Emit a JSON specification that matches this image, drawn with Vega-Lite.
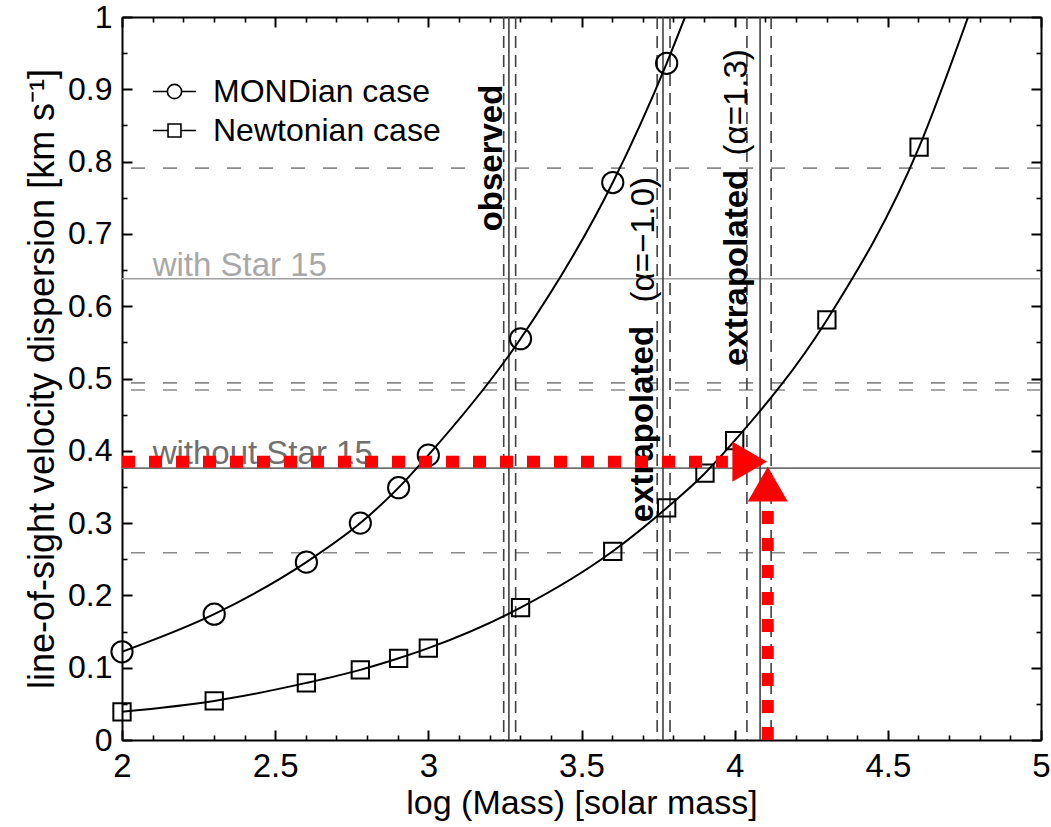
{
  "$schema": "https://vega.github.io/schema/vega-lite/v6.json",
  "width": 919,
  "height": 723,
  "autosize": {"type": "none"},
  "padding": {"left": 122, "top": 17, "right": 10, "bottom": 87},
  "background": "white",
  "config": {"view": {"stroke": null}, "font": "Liberation Sans", "axis": {"grid": false}},
  "datasets": {
    "curves": [
      {"case": "MONDian case", "kind": "model", "x": 2.0, "y": 0.122},
      {"case": "MONDian case", "kind": "model", "x": 2.301, "y": 0.174},
      {"case": "MONDian case", "kind": "model", "x": 2.602, "y": 0.246},
      {"case": "MONDian case", "kind": "model", "x": 2.778, "y": 0.300},
      {"case": "MONDian case", "kind": "model", "x": 2.903, "y": 0.349},
      {"case": "MONDian case", "kind": "model", "x": 3.0, "y": 0.394},
      {"case": "MONDian case", "kind": "model", "x": 3.301, "y": 0.555},
      {"case": "MONDian case", "kind": "model", "x": 3.602, "y": 0.771},
      {"case": "MONDian case", "kind": "model", "x": 3.778, "y": 0.936},
      {"case": "MONDian case", "kind": "curve end", "x": 3.838, "y": 1.0},
      {"case": "Newtonian case", "kind": "model", "x": 2.0, "y": 0.039},
      {"case": "Newtonian case", "kind": "model", "x": 2.301, "y": 0.054},
      {"case": "Newtonian case", "kind": "model", "x": 2.602, "y": 0.079},
      {"case": "Newtonian case", "kind": "model", "x": 2.778, "y": 0.097},
      {"case": "Newtonian case", "kind": "model", "x": 2.903, "y": 0.113},
      {"case": "Newtonian case", "kind": "model", "x": 3.0, "y": 0.127},
      {"case": "Newtonian case", "kind": "model", "x": 3.301, "y": 0.183},
      {"case": "Newtonian case", "kind": "model", "x": 3.602, "y": 0.261},
      {"case": "Newtonian case", "kind": "model", "x": 3.778, "y": 0.321},
      {"case": "Newtonian case", "kind": "model", "x": 3.903, "y": 0.369},
      {"case": "Newtonian case", "kind": "model", "x": 4.0, "y": 0.414},
      {"case": "Newtonian case", "kind": "model", "x": 4.301, "y": 0.581},
      {"case": "Newtonian case", "kind": "model", "x": 4.602, "y": 0.820},
      {"case": "Newtonian case", "kind": "curve end", "x": 4.762, "y": 1.0}
    ],
    "hWith": [{"y": 0.638}],
    "hWithout": [{"y": 0.376}],
    "hDashed": [{"y": 0.791}, {"y": 0.494}, {"y": 0.484}, {"y": 0.259}],
    "vSolid": [{"x": 3.263}, {"x": 3.766}, {"x": 4.083}],
    "vDashed": [{"x": 3.246}, {"x": 3.285}, {"x": 3.747}, {"x": 3.789}, {"x": 4.040}, {"x": 4.119}],
    "labWith": [{"text": "with Star 15", "x": 2.1, "y": 0.638}],
    "labWithout": [{"text": "without Star 15", "x": 2.1, "y": 0.376}],
    "rotBold": [
      {"text": "observed", "x": 3.208, "y": 0.805},
      {"text": "extrapolated", "x": 3.701, "y": 0.437},
      {"text": "extrapolated", "x": 4.008, "y": 0.653}
    ],
    "rotNormal": [
      {"text": "(α=−1.0)", "x": 3.703, "y": 0.692},
      {"text": "(α=1.3)", "x": 4.008, "y": 0.882}
    ],
    "redH": [{"x": 2.0, "x2": 3.978, "y": 0.385}],
    "redV": [{"x": 4.108, "y": 0.0, "y2": 0.328}],
    "headRight": [{"x": 4.049, "y": 0.385}],
    "headUp": [{"x": 4.108, "y": 0.354}]
  },
  "resolve": {"axis": {"x": "independent", "y": "independent"}},
  "layer": [
    {
      "data": {"name": "hWith"},
      "mark": {"type": "rule", "color": "#a0a0a0", "strokeWidth": 1.6},
      "encoding": {
        "y": {"field": "y", "type": "quantitative", "scale": {"domain": [0, 1], "nice": false, "zero": false},
          "axis": {"orient": "left", "values": [0, 0.1, 0.2, 0.3, 0.4, 0.5, 0.6, 0.7, 0.8, 0.9, 1], "format": "~g",
            "tickSize": -10, "tickWidth": 2, "tickColor": "black", "domain": true, "domainColor": "black", "domainWidth": 2,
            "labelFontSize": 32, "labelColor": "black", "labelPadding": 20, "labelFont": "Liberation Sans", "labelOverlap": false,
            "title": "line-of-sight velocity dispersion [km s⁻¹]", "titleFontSize": 36, "titleFontWeight": "normal",
            "titleColor": "black", "titleFont": "Liberation Sans", "titlePadding": 6, "grid": false}}
      }
    },
    {
      "data": {"name": "hWithout"},
      "mark": {"type": "rule", "color": "#707070", "strokeWidth": 1.6},
      "encoding": {
        "y": {"field": "y", "type": "quantitative", "scale": {"domain": [0, 1], "nice": false, "zero": false},
          "axis": {"orient": "left", "values": [0.05, 0.15, 0.25, 0.35, 0.45, 0.55, 0.65, 0.75, 0.85, 0.95],
            "tickSize": -5, "tickWidth": 1.6, "tickColor": "black", "domain": false, "labels": false, "title": null, "grid": false}}
      }
    },
    {
      "data": {"name": "hDashed"},
      "mark": {"type": "rule", "color": "#8a8a8a", "strokeWidth": 1.6, "strokeDash": [14, 18]},
      "encoding": {
        "y": {"field": "y", "type": "quantitative", "scale": {"domain": [0, 1], "nice": false, "zero": false}, "axis": null}
      }
    },
    {
      "data": {"name": "vSolid"},
      "mark": {"type": "rule", "color": "#404040", "strokeWidth": 1.6},
      "encoding": {
        "x": {"field": "x", "type": "quantitative", "scale": {"domain": [2, 5], "nice": false, "zero": false},
          "axis": {"orient": "bottom", "values": [2, 2.5, 3, 3.5, 4, 4.5, 5], "format": "~g",
            "tickSize": -10, "tickWidth": 2, "tickColor": "black", "domain": true, "domainColor": "black", "domainWidth": 2,
            "labelFontSize": 33, "labelColor": "black", "labelPadding": 20, "labelFlush": false, "labelOverlap": false,
            "labelFont": "Liberation Sans",
            "title": "log (Mass) [solar mass]", "titleFontSize": 34, "titleFontWeight": "normal", "titleColor": "black",
            "titleFont": "Liberation Sans", "titlePadding": 3, "grid": false}}
      }
    },
    {
      "data": {"name": "vDashed"},
      "mark": {"type": "rule", "color": "#404040", "strokeWidth": 1.6, "strokeDash": [12, 7]},
      "encoding": {
        "x": {"field": "x", "type": "quantitative", "scale": {"domain": [2, 5], "nice": false, "zero": false},
          "axis": {"orient": "bottom", "values": [2.1, 2.2, 2.3, 2.4, 2.6, 2.7, 2.8, 2.9, 3.1, 3.2, 3.3, 3.4, 3.6, 3.7, 3.8, 3.9, 4.1, 4.2, 4.3, 4.4, 4.6, 4.7, 4.8, 4.9],
            "tickSize": -5, "tickWidth": 1.6, "tickColor": "black", "domain": false, "labels": false, "title": null, "grid": false}}
      }
    },
    {
      "data": {"name": "curves"},
      "mark": {"type": "line", "color": "black", "strokeWidth": 2, "interpolate": "monotone", "clip": true},
      "encoding": {
        "detail": {"field": "case"},
        "x": {"field": "x", "type": "quantitative", "scale": {"domain": [2, 5], "nice": false, "zero": false},
          "axis": {"orient": "top", "values": [2, 2.5, 3, 3.5, 4, 4.5, 5],
            "tickSize": -10, "tickWidth": 2, "tickColor": "black", "domain": true, "domainColor": "black", "domainWidth": 2,
            "labels": false, "title": null, "grid": false}},
        "y": {"field": "y", "type": "quantitative", "scale": {"domain": [0, 1], "nice": false, "zero": false},
          "axis": {"orient": "right", "values": [0, 0.1, 0.2, 0.3, 0.4, 0.5, 0.6, 0.7, 0.8, 0.9, 1],
            "tickSize": -10, "tickWidth": 2, "tickColor": "black", "domain": true, "domainColor": "black", "domainWidth": 2,
            "labels": false, "title": null, "grid": false}}
      }
    },
    {
      "data": {"name": "curves"},
      "transform": [{"filter": "datum.kind === 'model'"}],
      "mark": {"type": "point", "filled": false, "color": "black", "strokeWidth": 2, "opacity": 1},
      "encoding": {
        "x": {"field": "x", "type": "quantitative", "scale": {"domain": [2, 5], "nice": false, "zero": false},
          "axis": {"orient": "top", "values": [2.1, 2.2, 2.3, 2.4, 2.6, 2.7, 2.8, 2.9, 3.1, 3.2, 3.3, 3.4, 3.6, 3.7, 3.8, 3.9, 4.1, 4.2, 4.3, 4.4, 4.6, 4.7, 4.8, 4.9],
            "tickSize": -5, "tickWidth": 1.6, "tickColor": "black", "domain": false, "labels": false, "title": null, "grid": false}},
        "y": {"field": "y", "type": "quantitative", "scale": {"domain": [0, 1], "nice": false, "zero": false},
          "axis": {"orient": "right", "values": [0.05, 0.15, 0.25, 0.35, 0.45, 0.55, 0.65, 0.75, 0.85, 0.95],
            "tickSize": -5, "tickWidth": 1.6, "tickColor": "black", "domain": false, "labels": false, "title": null, "grid": false}},
        "shape": {"condition": {"test": "datum.case === 'MONDian case'", "value": "circle"}, "value": "square"},
        "size": {"condition": {"test": "datum.case === 'MONDian case'", "value": 450}, "value": 300}
      }
    },
    {
      "data": {"name": "curves"},
      "transform": [{"filter": "false"}],
      "mark": {"type": "point", "filled": false, "color": "black", "strokeWidth": 1.6, "opacity": 1},
      "encoding": {
        "x": {"field": "x", "type": "quantitative", "scale": {"domain": [2, 5], "nice": false, "zero": false}, "axis": null},
        "y": {"field": "y", "type": "quantitative", "scale": {"domain": [0, 1], "nice": false, "zero": false}, "axis": null},
        "shape": {"field": "case", "type": "nominal",
          "scale": {"domain": ["MONDian case", "Newtonian case"],
            "range": ["M-1,0H-0.33M0.33,0H1M-0.33,0A0.33,0.33,0,1,1,0.33,0A0.33,0.33,0,1,1,-0.33,0Z", "M-1,0H-0.3M0.3,0H1M-0.3,-0.3H0.3V0.3H-0.3Z"]},
          "legend": {"orient": "none", "legendX": 30, "legendY": 52, "title": null,
            "labelFontSize": 32, "labelFont": "Liberation Sans", "labelColor": "black", "labelOffset": 16, "labelLimit": 500,
            "rowPadding": -2, "symbolSize": 1849, "symbolStrokeColor": "black", "symbolFillColor": "transparent",
            "symbolStrokeWidth": 1.6, "symbolOpacity": 1}}
      }
    },
    {
      "data": {"name": "labWith"},
      "mark": {"type": "text", "align": "left", "baseline": "alphabetic", "dy": -3, "fontSize": 33, "color": "#a8a8a8", "font": "Liberation Sans"},
      "encoding": {
        "x": {"field": "x", "type": "quantitative", "scale": {"domain": [2, 5], "nice": false, "zero": false}, "axis": null},
        "y": {"field": "y", "type": "quantitative", "scale": {"domain": [0, 1], "nice": false, "zero": false}, "axis": null},
        "text": {"field": "text"}
      }
    },
    {
      "data": {"name": "labWithout"},
      "mark": {"type": "text", "align": "left", "baseline": "alphabetic", "dy": -4, "fontSize": 33, "color": "#707070", "font": "Liberation Sans"},
      "encoding": {
        "x": {"field": "x", "type": "quantitative", "scale": {"domain": [2, 5], "nice": false, "zero": false}, "axis": null},
        "y": {"field": "y", "type": "quantitative", "scale": {"domain": [0, 1], "nice": false, "zero": false}, "axis": null},
        "text": {"field": "text"}
      }
    },
    {
      "data": {"name": "rotBold"},
      "mark": {"type": "text", "align": "center", "baseline": "middle", "angle": 270, "fontSize": 33, "fontWeight": "bold", "color": "black", "font": "Liberation Sans"},
      "encoding": {
        "x": {"field": "x", "type": "quantitative", "scale": {"domain": [2, 5], "nice": false, "zero": false}, "axis": null},
        "y": {"field": "y", "type": "quantitative", "scale": {"domain": [0, 1], "nice": false, "zero": false}, "axis": null},
        "text": {"field": "text"}
      }
    },
    {
      "data": {"name": "rotNormal"},
      "mark": {"type": "text", "align": "center", "baseline": "middle", "angle": 270, "fontSize": 33, "color": "black", "font": "Liberation Sans"},
      "encoding": {
        "x": {"field": "x", "type": "quantitative", "scale": {"domain": [2, 5], "nice": false, "zero": false}, "axis": null},
        "y": {"field": "y", "type": "quantitative", "scale": {"domain": [0, 1], "nice": false, "zero": false}, "axis": null},
        "text": {"field": "text"}
      }
    },
    {
      "data": {"name": "redH"},
      "mark": {"type": "rule", "color": "#ff0000", "strokeWidth": 12, "strokeDash": [13, 14], "strokeCap": "butt"},
      "encoding": {
        "x": {"field": "x", "type": "quantitative", "scale": {"domain": [2, 5], "nice": false, "zero": false}, "axis": null},
        "x2": {"field": "x2"},
        "y": {"field": "y", "type": "quantitative", "scale": {"domain": [0, 1], "nice": false, "zero": false}, "axis": null}
      }
    },
    {
      "data": {"name": "redV"},
      "mark": {"type": "rule", "color": "#ff0000", "strokeWidth": 12, "strokeDash": [13, 14], "strokeCap": "butt"},
      "encoding": {
        "x": {"field": "x", "type": "quantitative", "scale": {"domain": [2, 5], "nice": false, "zero": false}, "axis": null},
        "y": {"field": "y", "type": "quantitative", "scale": {"domain": [0, 1], "nice": false, "zero": false}, "axis": null},
        "y2": {"field": "y2"}
      }
    },
    {
      "data": {"name": "headRight"},
      "mark": {"type": "point", "shape": "triangle-right", "filled": true, "color": "#ff0000", "size": 1600, "opacity": 1},
      "encoding": {
        "x": {"field": "x", "type": "quantitative", "scale": {"domain": [2, 5], "nice": false, "zero": false}, "axis": null},
        "y": {"field": "y", "type": "quantitative", "scale": {"domain": [0, 1], "nice": false, "zero": false}, "axis": null}
      }
    },
    {
      "data": {"name": "headUp"},
      "mark": {"type": "point", "shape": "triangle-up", "filled": true, "color": "#ff0000", "size": 1600, "opacity": 1},
      "encoding": {
        "x": {"field": "x", "type": "quantitative", "scale": {"domain": [2, 5], "nice": false, "zero": false}, "axis": null},
        "y": {"field": "y", "type": "quantitative", "scale": {"domain": [0, 1], "nice": false, "zero": false}, "axis": null}
      }
    }
  ]
}
